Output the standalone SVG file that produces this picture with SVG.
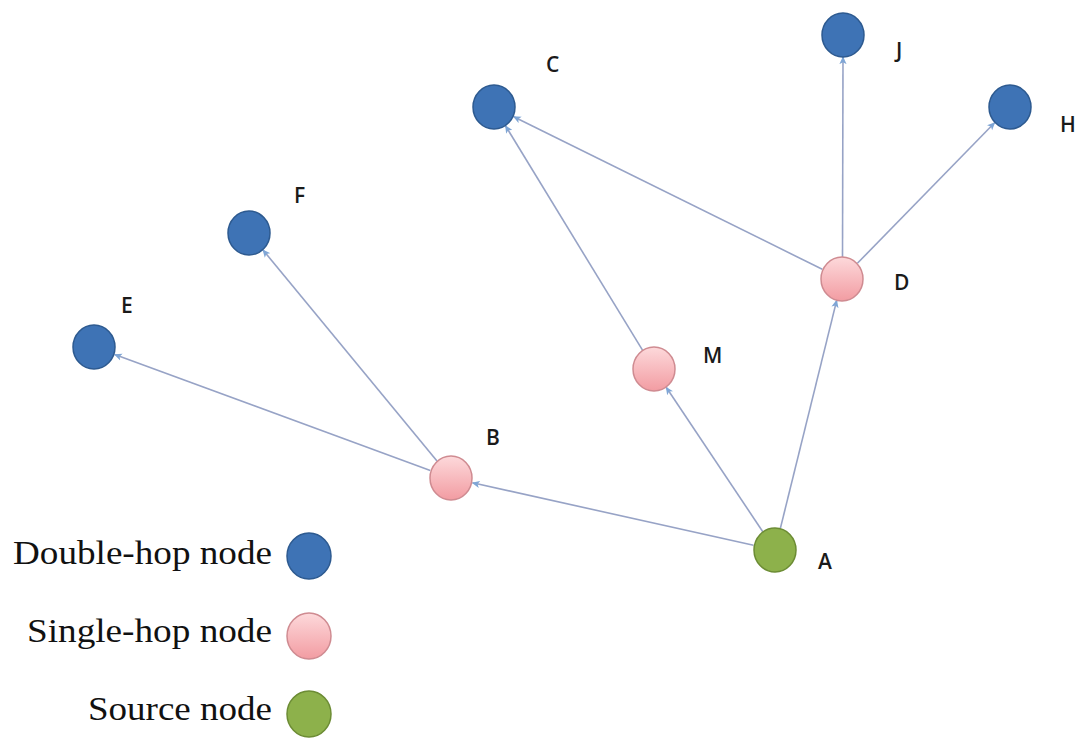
<svg xmlns="http://www.w3.org/2000/svg" width="1083" height="740" viewBox="0 0 1083 740">
<style>
.dbl{fill:#3e73b5;stroke:#2d5a90;stroke-width:1.5}
.sgl{fill:url(#pink);stroke:#cf8b91;stroke-width:1.5}
.src{fill:#8db14b;stroke:#6c8c34;stroke-width:1.5}
.lbl{font-family:"Open Sans","Liberation Sans",sans-serif;font-size:21px;font-weight:600;fill:#1a1a1a}
.leg{font-family:"Liberation Serif","Times New Roman",serif;font-size:34px;fill:#111}
.edge{stroke:#97a3c6;stroke-width:1.6;fill:none;marker-end:url(#arr)}
</style>
<defs>
<linearGradient id="pink" x1="0" y1="0" x2="0" y2="1">
<stop offset="0" stop-color="#fdd9db"/>
<stop offset="1" stop-color="#f29ca2"/>
</linearGradient>
<marker id="arr" viewBox="0 0 10 10" refX="9" refY="5" markerWidth="8" markerHeight="8" markerUnits="userSpaceOnUse" orient="auto">
<path d="M0,0.5 L10,5 L0,9.5 L2.5,5 Z" fill="#7fa6d6"/>
</marker>
</defs>
<rect width="1083" height="740" fill="#ffffff"/>
<g id="connectors">
<line class="edge" x1="753.5" y1="545.2" x2="472.5" y2="482.8"/>
<line class="edge" x1="762.8" y1="531.7" x2="666.2" y2="387.3"/>
<line class="edge" x1="780.3" y1="528.6" x2="836.7" y2="300.4"/>
<line class="edge" x1="430.3" y1="470.4" x2="114.7" y2="354.6"/>
<line class="edge" x1="437.0" y1="461.0" x2="263.0" y2="250.0"/>
<line class="edge" x1="642.5" y1="350.2" x2="505.5" y2="125.8"/>
<line class="edge" x1="822.3" y1="269.3" x2="513.7" y2="116.7"/>
<line class="edge" x1="842.5" y1="257" x2="843" y2="57"/>
<line class="edge" x1="857.4" y1="263.3" x2="994.6" y2="122.7"/>
</g>
<g id="node-J"><ellipse class="dbl" cx="843" cy="35" rx="21" ry="22"/><text class="lbl" x="896" y="58">J</text></g>
<g id="node-C"><ellipse class="dbl" cx="494" cy="107" rx="21" ry="22"/><text class="lbl" x="546" y="72">C</text></g>
<g id="node-H"><ellipse class="dbl" cx="1010" cy="107" rx="21" ry="22"/><text class="lbl" x="1060" y="132">H</text></g>
<g id="node-F"><ellipse class="dbl" cx="249" cy="233" rx="21" ry="22"/><text class="lbl" x="294" y="203">F</text></g>
<g id="node-E"><ellipse class="dbl" cx="94" cy="347" rx="21" ry="22"/><text class="lbl" x="121" y="313">E</text></g>
<g id="node-D"><ellipse class="sgl" cx="842" cy="279" rx="21" ry="22"/><text class="lbl" x="894" y="290">D</text></g>
<g id="node-M"><ellipse class="sgl" cx="654" cy="369" rx="21" ry="22"/><text class="lbl" x="703" y="363">M</text></g>
<g id="node-B"><ellipse class="sgl" cx="451" cy="478" rx="21" ry="22"/><text class="lbl" x="486" y="445">B</text></g>
<g id="node-A"><ellipse class="src" cx="775" cy="550" rx="21" ry="22"/><text class="lbl" x="818" y="569">A</text></g>
<g id="legend">
<text class="leg" x="272" y="564" text-anchor="end" textLength="259" lengthAdjust="spacingAndGlyphs">Double-hop node</text>
<ellipse class="dbl" cx="309" cy="556" rx="22" ry="23"/>
<text class="leg" x="272" y="642" text-anchor="end" textLength="245" lengthAdjust="spacingAndGlyphs">Single-hop node</text>
<ellipse class="sgl" cx="309" cy="636" rx="22" ry="23"/>
<text class="leg" x="272" y="720" text-anchor="end" textLength="184" lengthAdjust="spacingAndGlyphs">Source node</text>
<ellipse class="src" cx="309" cy="714" rx="22" ry="23"/>
</g>
</svg>
